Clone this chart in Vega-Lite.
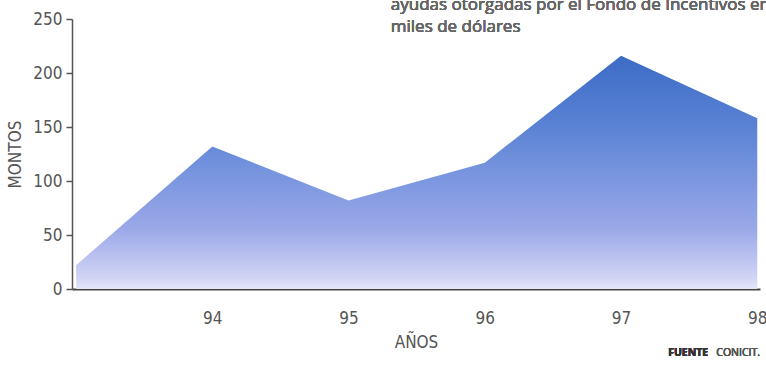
{
  "$schema": "https://vega.github.io/schema/vega-lite/v6.json",
  "width": 688,
  "height": 270,
  "autosize": {"type": "none"},
  "padding": {"left": 72, "top": 19, "right": 6, "bottom": 78},
  "background": "white",
  "config": {"view": {"stroke": null}},
  "data": {"values": [
    {"anio": 93, "monto": 22},
    {"anio": 94, "monto": 132},
    {"anio": 95, "monto": 82},
    {"anio": 96, "monto": 117},
    {"anio": 97, "monto": 216},
    {"anio": 98, "monto": 158}
  ]},
  "layer": [
    {
      "mark": {
        "type": "area",
        "clip": true,
        "color": {
          "gradient": "linear",
          "x1": 0, "y1": 0, "x2": 0, "y2": 1,
          "stops": [
            {"offset": 0, "color": "#3c6bc6"},
            {"offset": 0.3, "color": "#5a82d4"},
            {"offset": 0.45, "color": "#7090dc"},
            {"offset": 0.74, "color": "#9aa8e8"},
            {"offset": 0.95, "color": "#d0d4f4"},
            {"offset": 1, "color": "#e4e6f8"}
          ]
        }
      },
      "encoding": {
        "x": {
          "field": "anio", "type": "quantitative",
          "scale": {"domain": [92.97, 98.02], "nice": false, "zero": false},
          "axis": {
            "values": [94, 95, 96, 97, 98],
            "format": "d",
            "title": "AÑOS",
            "ticks": false,
            "grid": false,
            "domainColor": "#444",
            "domainWidth": 2,
            "labelFont": "DejaVu Sans Condensed, Liberation Sans, sans-serif",
            "labelFontSize": 17,
            "labelColor": "#555",
            "labelPadding": 21,
            "labelFlush": false,
            "titleFont": "DejaVu Sans Condensed, Liberation Sans, sans-serif",
            "titleFontSize": 17,
            "titleFontWeight": "normal",
            "titleColor": "#555",
            "titlePadding": 8
          }
        },
        "y": {
          "field": "monto", "type": "quantitative",
          "scale": {"domain": [0, 250], "nice": false},
          "axis": {
            "values": [0, 50, 100, 150, 200, 250],
            "title": "MONTOS",
            "grid": false,
            "domainColor": "#555",
            "domainWidth": 1.5,
            "tickColor": "#555",
            "tickSize": 6,
            "tickWidth": 1.5,
            "labelFont": "DejaVu Sans Condensed, Liberation Sans, sans-serif",
            "labelFontSize": 17,
            "labelColor": "#555",
            "labelPadding": 4,
            "titleFont": "DejaVu Sans Condensed, Liberation Sans, sans-serif",
            "titleFontSize": 17,
            "titleFontWeight": "normal",
            "titleColor": "#555",
            "titlePadding": 8
          }
        }
      }
    },
    {
      "mark": {"type": "text", "align": "left", "baseline": "alphabetic", "font": "Open Sans", "fontSize": 17, "fontWeight": "normal", "color": "#666"},
      "encoding": {
        "x": {"datum": 95.31, "type": "quantitative"},
        "y": {"datum": 258, "type": "quantitative"},
        "text": {"value": "ayudas otorgadas por el Fondo de Incentivos en"}
      }
    },
    {
      "mark": {"type": "text", "align": "left", "baseline": "alphabetic", "font": "Open Sans", "fontSize": 17, "fontWeight": "normal", "color": "#666"},
      "encoding": {
        "x": {"datum": 95.31, "type": "quantitative"},
        "y": {"datum": 238, "type": "quantitative"},
        "text": {"value": "miles de dólares"}
      }
    },
    {
      "mark": {"type": "text", "align": "right", "baseline": "alphabetic", "font": "Open Sans", "fontSize": 10.5, "fontWeight": "bold", "color": "#333"},
      "encoding": {
        "x": {"datum": 97.64, "type": "quantitative"},
        "y": {"datum": -62, "type": "quantitative"},
        "text": {"value": "FUENTE"}
      }
    },
    {
      "mark": {"type": "text", "align": "right", "baseline": "alphabetic", "font": "Open Sans", "fontSize": 10.5, "fontWeight": "normal", "color": "#555"},
      "encoding": {
        "x": {"datum": 98.02, "type": "quantitative"},
        "y": {"datum": -62, "type": "quantitative"},
        "text": {"value": "CONICIT."}
      }
    }
  ]
}
